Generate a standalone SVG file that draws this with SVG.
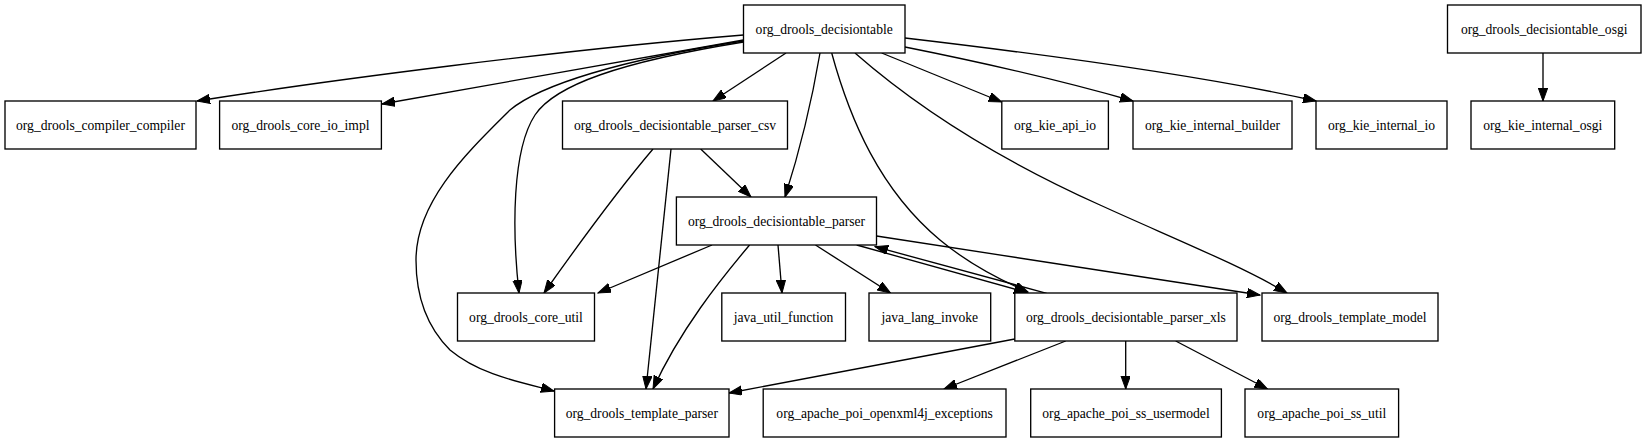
<svg xmlns="http://www.w3.org/2000/svg" width="1644" height="443" viewBox="0 0 1644 443">
<style>
.n rect{fill:#fff;stroke:#000;stroke-width:1.33}
.n text{font-family:'Liberation Serif',serif;font-size:13.6px;text-anchor:middle;fill:#000}
.e path{fill:none;stroke:#000;stroke-width:1.33;marker-end:url(#ah)}
</style>
<defs>
<marker id="ah" markerUnits="userSpaceOnUse" markerWidth="14" markerHeight="10" refX="13" refY="4.7" orient="auto">
<path d="M0,0 L13,4.7 L0,9.4 z" fill="#000" stroke="#000" stroke-width="1"/>
</marker>
</defs>
<rect width="1644" height="443" fill="#fff"/>
<g id="edges" class="e">
<path d="M743.5,35 C 560,50 330,80 197,101"/>
<path d="M743.5,40 L382,104"/>
<path d="M743.5,42 C 620,62 555,85 535,115 C 512,150 512,230 519,293"/>
<path d="M743.5,41 C 620,60 540,85 510,110 C 470,150 416,200 416,260 C 416,300 430,330 450,350 C 480,375 520,382 554,391"/>
<path d="M786,53 L713,101"/>
<path d="M820,53 C 812,100 800,150 785,197"/>
<path d="M831.7,53 C 850,120 880,190 940,240 C 970,265 1000,280 1028,292"/>
<path d="M855,53 C 920,110 1000,160 1100,205 C 1170,237 1240,265 1287,293"/>
<path d="M881.7,53 L1001.7,102"/>
<path d="M905,47 C 980,62 1060,80 1133,101"/>
<path d="M905,38 C 1050,55 1200,75 1316,101"/>
<path d="M1543,53 L1543,101"/>
<path d="M653,149 C 625,182 585,235 544,293"/>
<path d="M671,149 L646,389"/>
<path d="M700.7,149 L751,197"/>
<path d="M712,245 L598,293"/>
<path d="M749.6,245 C 720,280 680,330 653,389"/>
<path d="M778,245 L782,293"/>
<path d="M815.5,245 L890.5,293"/>
<path d="M856.7,245 L1027,292.5"/>
<path d="M1046.7,293.3 L875,246.7"/>
<path d="M876.5,236 L1260,295"/>
<path d="M1014.8,339 L729,393"/>
<path d="M1065.7,341 L944,389"/>
<path d="M1125.7,341 L1125.7,389"/>
<path d="M1175.7,341 L1267.5,389"/>
</g>
<g id="org_drools_decisiontable" class="n"><rect x="743.5" y="5" width="161.5" height="48"/><text x="824.2" y="33.5" font-family="Liberation Serif, serif">org_drools_decisiontable</text></g>
<g id="org_drools_decisiontable_osgi" class="n"><rect x="1447.5" y="5" width="193.5" height="48"/><text x="1544.2" y="33.5" font-family="Liberation Serif, serif">org_drools_decisiontable_osgi</text></g>
<g id="org_drools_compiler_compiler" class="n"><rect x="5" y="101" width="191" height="48"/><text x="100.5" y="129.5" font-family="Liberation Serif, serif">org_drools_compiler_compiler</text></g>
<g id="org_drools_core_io_impl" class="n"><rect x="219.6" y="101" width="161.8" height="48"/><text x="300.5" y="129.5" font-family="Liberation Serif, serif">org_drools_core_io_impl</text></g>
<g id="org_drools_decisiontable_parser_csv" class="n"><rect x="562.5" y="101" width="225" height="48"/><text x="675" y="129.5" font-family="Liberation Serif, serif">org_drools_decisiontable_parser_csv</text></g>
<g id="org_kie_api_io" class="n"><rect x="1001.8" y="101" width="106.6" height="48"/><text x="1055.1" y="129.5" font-family="Liberation Serif, serif">org_kie_api_io</text></g>
<g id="org_kie_internal_builder" class="n"><rect x="1133" y="101" width="159" height="48"/><text x="1212.5" y="129.5" font-family="Liberation Serif, serif">org_kie_internal_builder</text></g>
<g id="org_kie_internal_io" class="n"><rect x="1316" y="101" width="131" height="48"/><text x="1381.5" y="129.5" font-family="Liberation Serif, serif">org_kie_internal_io</text></g>
<g id="org_kie_internal_osgi" class="n"><rect x="1471" y="101" width="143.7" height="48"/><text x="1542.8" y="129.5" font-family="Liberation Serif, serif">org_kie_internal_osgi</text></g>
<g id="org_drools_decisiontable_parser" class="n"><rect x="676.4" y="197" width="200.1" height="48"/><text x="776.5" y="225.5" font-family="Liberation Serif, serif">org_drools_decisiontable_parser</text></g>
<g id="org_drools_core_util" class="n"><rect x="457.5" y="293" width="137" height="48"/><text x="526" y="321.5" font-family="Liberation Serif, serif">org_drools_core_util</text></g>
<g id="java_util_function" class="n"><rect x="721.8" y="293" width="123.7" height="48"/><text x="783.6" y="321.5" font-family="Liberation Serif, serif">java_util_function</text></g>
<g id="java_lang_invoke" class="n"><rect x="869" y="293" width="121.7" height="48"/><text x="929.8" y="321.5" font-family="Liberation Serif, serif">java_lang_invoke</text></g>
<g id="org_drools_decisiontable_parser_xls" class="n"><rect x="1014.8" y="293" width="222.2" height="48"/><text x="1125.9" y="321.5" font-family="Liberation Serif, serif">org_drools_decisiontable_parser_xls</text></g>
<g id="org_drools_template_model" class="n"><rect x="1262" y="293" width="176" height="48"/><text x="1350" y="321.5" font-family="Liberation Serif, serif">org_drools_template_model</text></g>
<g id="org_drools_template_parser" class="n"><rect x="554.6" y="389" width="174.4" height="48"/><text x="641.8" y="417.5" font-family="Liberation Serif, serif">org_drools_template_parser</text></g>
<g id="org_apache_poi_openxml4j_exceptions" class="n"><rect x="763.2" y="389" width="242.8" height="48"/><text x="884.6" y="417.5" font-family="Liberation Serif, serif">org_apache_poi_openxml4j_exceptions</text></g>
<g id="org_apache_poi_ss_usermodel" class="n"><rect x="1030.7" y="389" width="190.7" height="48"/><text x="1126" y="417.5" font-family="Liberation Serif, serif">org_apache_poi_ss_usermodel</text></g>
<g id="org_apache_poi_ss_util" class="n"><rect x="1245" y="389" width="153.6" height="48"/><text x="1321.8" y="417.5" font-family="Liberation Serif, serif">org_apache_poi_ss_util</text></g>
</svg>
